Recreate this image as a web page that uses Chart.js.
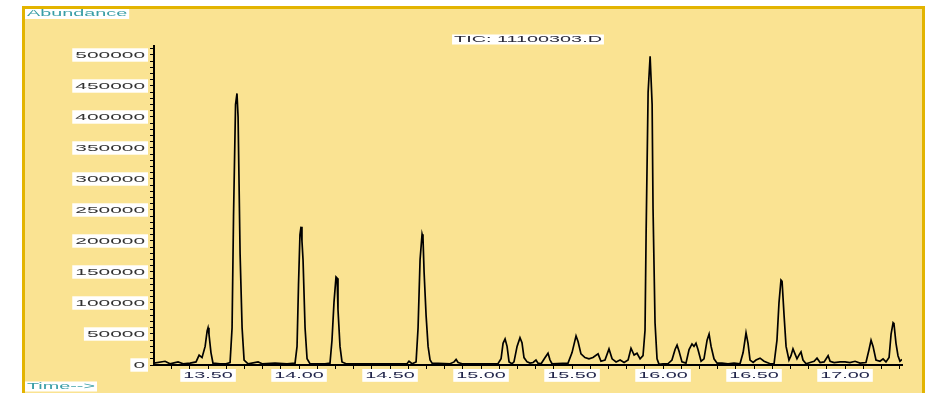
<!DOCTYPE html>
<html>
<head>
<meta charset="utf-8">
<script src="https://cdn.jsdelivr.net/npm/chart.js@4/dist/chart.umd.min.js"></script>
<style>
html,body{margin:0;padding:0;background:#fff;}
canvas{display:block;}
</style>
</head>
<body>
<canvas id="c" width="926" height="393"></canvas>
<script>
// ---- data (retention time in minutes, abundance) ----
const times = [
13.203,13.264,13.291,13.335,13.363,13.401,13.434,13.451,13.467,13.484,13.495,13.500,13.505,13.516,13.527,
13.566,13.599,13.621,13.632,13.640,13.651,13.659,13.665,13.676,13.687,13.698,13.720,13.775,13.797,13.868,
13.934,13.978,13.989,13.997,14.005,14.011,14.016,14.022,14.033,14.044,14.060,14.143,14.170,14.181,14.192,
14.203,14.209,14.214,14.225,14.236,14.258,14.445,14.593,14.604,14.621,14.643,14.654,14.665,14.676,14.681,14.687,
14.698,14.709,14.720,14.731,14.830,14.852,14.863,14.874,14.896,15.093,15.110,15.121,15.132,15.143,15.154,
15.170,15.181,15.198,15.214,15.225,15.236,15.253,15.269,15.286,15.302,15.313,15.330,15.352,15.368,15.379,
15.390,15.478,15.500,15.522,15.533,15.549,15.571,15.593,15.615,15.643,15.659,15.681,15.703,15.720,15.742,
15.764,15.786,15.808,15.824,15.841,15.857,15.874,15.890,15.901,15.907,15.918,15.929,15.934,15.940,15.945,
15.956,15.967,15.978,16.000,16.027,16.049,16.066,16.077,16.088,16.104,16.126,16.143,16.159,16.170,16.181,
16.192,16.209,16.225,16.242,16.253,16.264,16.280,16.297,16.324,16.357,16.390,16.423,16.440,16.456,16.467,
16.478,16.495,16.511,16.533,16.555,16.588,16.610,16.626,16.637,16.648,16.654,16.665,16.676,16.692,16.703,
16.714,16.725,16.736,16.747,16.758,16.769,16.786,16.808,16.830,16.846,16.863,16.885,16.907,16.918,16.940,
16.973,17.000,17.027,17.055,17.082,17.115,17.132,17.143,17.154,17.170,17.192,17.209,17.225,17.242,17.253,
17.264,17.269,17.280,17.291,17.302,17.313
];
const abundance = [
3000,6000,2000,5000,2000,3000,5000,16000,12000,30000,55000,60000,50000,20000,3000,
2000,2000,4000,60000,240000,420000,438000,400000,180000,60000,8000,2000,5000,2000,3000,
2000,3000,30000,129000,210000,223000,200000,169000,60000,10000,2000,2000,3000,40000,101000,
142000,140000,89000,30000,5000,2000,2000,2000,6000,2000,5000,60000,170000,211000,205000,150000,
80000,30000,8000,3000,2000,5000,9000,4000,2000,2000,10000,35000,42000,30000,5000,
2000,5000,30000,44000,36000,12000,5000,3000,4000,8000,3000,2000,12000,19000,8000,
2000,3000,20000,47000,38000,18000,12000,10000,12000,18000,6000,8000,26000,10000,5000,
8000,4000,8000,27000,16000,19000,10000,15000,56000,213000,440000,498000,463000,420000,253000,
68000,10000,1000,2000,2000,8000,25000,32000,22000,5000,3000,25000,34000,30000,35000,
25000,6000,10000,40000,50000,30000,10000,3000,3000,2000,3000,2000,20000,52000,35000,
8000,4000,8000,11000,6000,2000,2000,40000,100000,137000,135000,80000,30000,8000,15000,
26000,18000,10000,16000,21000,8000,2000,4000,6000,11000,4000,5000,15000,6000,4000,
5000,5000,4000,6000,3000,4000,25000,40000,30000,8000,6000,10000,5000,12000,50000,
68000,66000,35000,15000,6000,9000
];
const yTickStep = 10000;      // minor ticks
const yLabelStep = 50000;     // labelled ticks
const xTickStep = 0.1;
const xLabelStep = 0.5;
const titleText = "TIC: 11100303.D";
const yAxisText = "Abundance";
const xAxisText = "Time-->";

// ---- horizontally stretched text (the reference is stretched sideways) ----
const SX = 2.2;
const canvas = document.getElementById('c');
const ctx = canvas.getContext('2d');
const origFill = ctx.fillText;
const origMeasure = ctx.measureText;
ctx.fillText = function(text, x, y, maxW){
  this.save();
  this.translate(x, y);
  this.scale(SX, 1);
  if (maxW === undefined) origFill.call(this, text, 0, 0);
  else origFill.call(this, text, 0, 0, maxW / SX);
  this.restore();
};
ctx.measureText = function(t){
  const m = origMeasure.call(this, t);
  return {
    width: m.width * SX,
    actualBoundingBoxAscent: m.actualBoundingBoxAscent,
    actualBoundingBoxDescent: m.actualBoundingBoxDescent,
    actualBoundingBoxLeft: m.actualBoundingBoxLeft * SX,
    actualBoundingBoxRight: m.actualBoundingBoxRight * SX,
    fontBoundingBoxAscent: m.fontBoundingBoxAscent,
    fontBoundingBoxDescent: m.fontBoundingBoxDescent
  };
};

const FONT = '"Liberation Sans", Arial, sans-serif';

const panelPlugin = {
  id: 'panel',
  beforeDraw(chart){
    const c = chart.ctx;
    c.save();
    c.fillStyle = '#ffffff';
    c.fillRect(0, 0, chart.width, chart.height);
    c.fillStyle = '#FAE392';
    c.fillRect(22, 6, 903, 393);
    c.strokeStyle = '#E3B400';
    c.lineWidth = 3;
    c.beginPath();
    c.moveTo(23.5, 400);
    c.lineTo(23.5, 7.5);
    c.lineTo(923.5, 7.5);
    c.lineTo(923.5, 400);
    c.stroke();
    c.restore();
  }
};

function boxText(c, text, x, y, color, align){
  c.font = '9px ' + FONT;
  const w = c.measureText(text).width;
  const left = align === 'left' ? x : x - w / 2;
  c.fillStyle = '#ffffff';
  c.fillRect(left - 2, y - 5, w + 4, 10);
  c.fillStyle = color;
  c.textAlign = align;
  c.textBaseline = 'middle';
  c.fillText(text, x, y);
}

const textPlugin = {
  id: 'texts',
  afterDraw(chart){
    const c = chart.ctx;
    const a = chart.chartArea;
    c.save();
    boxText(c, yAxisText, 27, 14, '#3A9EA6', 'left');
    boxText(c, xAxisText, 27, 386.5, '#3A9EA6', 'left');
    boxText(c, titleText, (a.left + a.right) / 2, 39.5, '#2A2A3A', 'center');
    c.restore();
  }
};

const points = times.map((t, i) => ({x: t, y: abundance[i]}));

function isMult(v, step){
  const r = v / step;
  return Math.abs(r - Math.round(r)) < 1e-6;
}

new Chart(ctx, {
  type: 'line',
  data: {
    datasets: [{
      data: points,
      borderColor: '#000000',
      borderWidth: 1.7,
      pointRadius: 0,
      tension: 0,
      fill: false
    }]
  },
  options: {
    responsive: false,
    animation: false,
    devicePixelRatio: 1,
    layout: {padding: {top: 46, right: 24, bottom: 0, left: 0}},
    plugins: {legend: {display: false}, tooltip: {enabled: false}, title: {display: false}},
    scales: {
      x: {
        type: 'linear',
        min: 13.203,
        max: 17.313,
        afterFit(scale){ scale.height = 28; },
        border: {color: '#000', width: 2},
        grid: {drawOnChartArea: false, drawTicks: true, tickLength: 4, color: '#000', lineWidth: 1},
        ticks: {
          stepSize: xTickStep,
          includeBounds: false,
          autoSkip: false,
          minRotation: 0,
          maxRotation: 0,
          padding: 1,
          color: '#1E2248',
          font: {family: FONT, size: 9},
          showLabelBackdrop: (c) => !!(c.tick && c.tick.label),
          backdropColor: '#ffffff',
          backdropPadding: {x: 3, y: 1},
          callback: (v) => isMult(v, xLabelStep) ? v.toFixed(2) : ''
        }
      },
      y: {
        type: 'linear',
        min: 0,
        max: 514500,
        afterFit(scale){ scale.width = 154; },
        afterBuildTicks(scale){
          const t = [];
          for (let v = 0; v <= scale.max; v += yTickStep) t.push({value: v});
          scale.ticks = t;
        },
        border: {color: '#000', width: 2},
        grid: {drawOnChartArea: false, drawTicks: true, tickLength: 4, color: '#000', lineWidth: 1},
        ticks: {
          autoSkip: false,
          padding: 5,
          color: '#333333',
          font: {family: FONT, size: 9.5},
          showLabelBackdrop: (c) => !!(c.tick && c.tick.label),
          backdropColor: '#ffffff',
          backdropPadding: {x: 3, y: 1},
          callback: (v) => isMult(v, yLabelStep) ? String(v) : ''
        }
      }
    }
  },
  plugins: [panelPlugin, textPlugin]
});
</script>
</body>
</html>
